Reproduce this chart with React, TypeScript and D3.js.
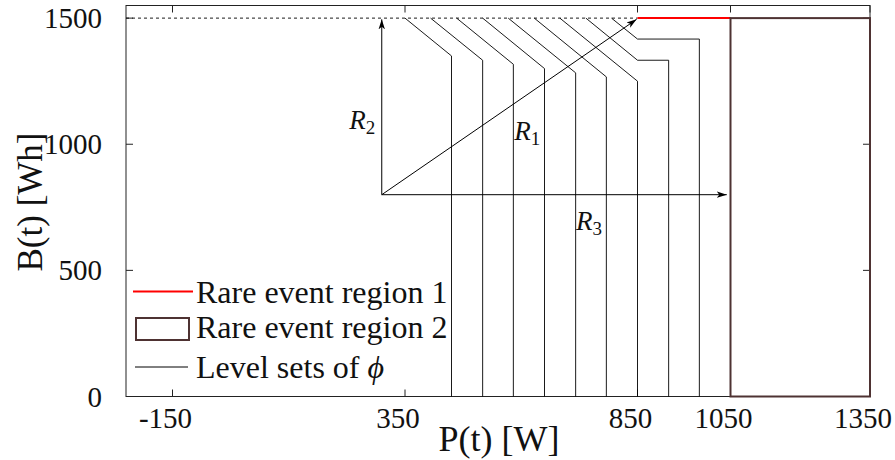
import React from "react";
import * as d3 from "d3";

// Axis ranges and ticks
const pDomain: [number, number] = [-250, 1350];
const bDomain: [number, number] = [0, 1550];
const pTicks = [-150, 350, 850, 1050, 1350];
const bTicks = [0, 500, 1000, 1500];

// Battery capacity (upper bound of B)
const capacity = 1500;

// Level sets of phi, as polylines of [P, B]
const levelSets: [number, number][][] = [
  [[350, 1500], [450, 1350], [450, 0]],
  [[405, 1500], [517, 1333], [517, 0]],
  [[461, 1500], [583, 1317], [583, 0]],
  [[517, 1500], [650, 1300], [650, 0]],
  [[572, 1500], [717, 1283], [717, 0]],
  [[628, 1500], [783, 1267], [783, 0]],
  [[683, 1500], [850, 1250], [850, 0]],
  [[739, 1500], [850, 1333], [917, 1333], [917, 0]],
  [[794, 1500], [850, 1417], [983, 1417], [983, 0]],
];

// Rare event region 1: segment on B = capacity
const region1P: [number, number] = [850, 1050];
// Rare event region 2: rectangle
const region2P: [number, number] = [1050, 1350];
const region2B: [number, number] = [0, 1500];

// Direction arrows R1..R3 from a common origin
const arrowOrigin: [number, number] = [300, 800];
const arrows = [
  { name: "R", sub: "1", tip: [848, 1495] as [number, number], label: [585, 1017] as [number, number] },
  { name: "R", sub: "2", tip: [300, 1495] as [number, number], label: [230, 1060] as [number, number] },
  { name: "R", sub: "3", tip: [1042, 800] as [number, number], label: [718, 660] as [number, number] },
];

const legendItems = ["Rare event region 1", "Rare event region 2", "Level sets of "];

const FONT = "'Liberation Serif', 'Times New Roman', serif";

export default function App() {
  const W = 895;
  const H = 460;
  const x = d3.scaleLinear().domain(pDomain).range([126, 870]);
  const y = d3.scaleLinear().domain(bDomain).range([396.5, 5.5]);
  const line = d3
    .line<[number, number]>()
    .x((d) => x(d[0]))
    .y((d) => y(d[1]));

  const [x0, x1] = x.range();
  const [y0, y1] = y.range();
  const tickLen = 7;

  return (
    <svg
      width={W}
      height={H}
      viewBox={`0 0 ${W} ${H}`}
      style={{ position: "absolute", left: 0, top: 0, background: "#fff" }}
      fontFamily={FONT}
    >
      <defs>
        <marker
          id="head"
          viewBox="0 0 10 8"
          refX="10"
          refY="4"
          markerWidth="10"
          markerHeight="8"
          markerUnits="userSpaceOnUse"
          orient="auto"
        >
          <path d="M0,0.8 L10,4 L0,7.2 L2.5,4 Z" fill="#000" />
        </marker>
      </defs>

      {/* axes box */}
      <rect x={x0} y={y1} width={x1 - x0} height={y0 - y1} fill="none" stroke="#222" strokeWidth={1} />

      {/* x ticks (bottom and top) */}
      {pTicks.map((t) => (
        <g key={`xt${t}`}>
          <line x1={x(t)} x2={x(t)} y1={y0} y2={y0 - tickLen} stroke="#222" strokeWidth={1} />
          <line x1={x(t)} x2={x(t)} y1={y1} y2={y1 + tickLen} stroke="#222" strokeWidth={1} />
          <text x={x(t) - 7} y={428} fontSize={29} textAnchor="middle" fill="#111">
            {t}
          </text>
        </g>
      ))}

      {/* y ticks (left and right) */}
      {bTicks.map((t) => (
        <g key={`yt${t}`}>
          <line x1={x0} x2={x0 + tickLen} y1={y(t)} y2={y(t)} stroke="#222" strokeWidth={1} />
          <line x1={x1} x2={x1 - tickLen} y1={y(t)} y2={y(t)} stroke="#222" strokeWidth={1} />
          <text x={102} y={y(t) + 10} fontSize={29} textAnchor="end" fill="#111">
            {t}
          </text>
        </g>
      ))}

      {/* axis labels */}
      <text x={499} y={451} fontSize={36} textAnchor="middle" fill="#111">
        P(t) [W]
      </text>
      <text
        transform={`translate(42, 202) rotate(-90)`}
        fontSize={35}
        textAnchor="middle"
        fill="#111"
      >
        B(t) [Wh]
      </text>

      {/* capacity line */}
      <line
        x1={x(pDomain[0])}
        x2={x(region1P[0])}
        y1={y(capacity)}
        y2={y(capacity)}
        stroke="#000"
        strokeWidth={0.9}
        strokeDasharray="3,3"
      />

      {/* level sets */}
      {levelSets.map((pts, i) => (
        <path key={`ls${i}`} d={line(pts) ?? ""} fill="none" stroke="#000" strokeWidth={0.9} />
      ))}

      {/* rare event region 1 */}
      <line
        x1={x(region1P[0])}
        x2={x(region1P[1])}
        y1={y(capacity)}
        y2={y(capacity)}
        stroke="#ff0000"
        strokeWidth={2}
      />

      {/* rare event region 2 */}
      <rect
        x={x(region2P[0])}
        y={y(region2B[1])}
        width={x(region2P[1]) - x(region2P[0])}
        height={y(region2B[0]) - y(region2B[1])}
        fill="none"
        stroke="#4e3232"
        strokeWidth={2}
      />

      {/* arrows */}
      {arrows.map((a) => (
        <g key={`ar${a.sub}`}>
          <line
            x1={x(arrowOrigin[0])}
            y1={y(arrowOrigin[1])}
            x2={x(a.tip[0])}
            y2={y(a.tip[1])}
            stroke="#000"
            strokeWidth={1}
            markerEnd="url(#head)"
          />
          <text x={x(a.label[0])} y={y(a.label[1])} fontSize={27} fontStyle="italic" fill="#111">
            {a.name}
            <tspan fontSize={19} fontStyle="normal" dy={5}>
              {a.sub}
            </tspan>
          </text>
        </g>
      ))}

      {/* legend */}
      <g>
        <line x1={133} x2={193} y1={291.5} y2={291.5} stroke="#ff0000" strokeWidth={2} />
        <rect x={136} y={318} width={53} height={22} fill="none" stroke="#4e3232" strokeWidth={2} />
        <line x1={135} x2={188} y1={367} y2={367} stroke="#000" strokeWidth={1} />
        {legendItems.map((t, i) => (
          <text key={`lg${i}`} x={196} y={[303, 338, 378][i]} fontSize={32} fill="#111">
            {t}
            {i === 2 ? <tspan fontStyle="italic">ϕ</tspan> : null}
          </text>
        ))}
      </g>
    </svg>
  );
}
